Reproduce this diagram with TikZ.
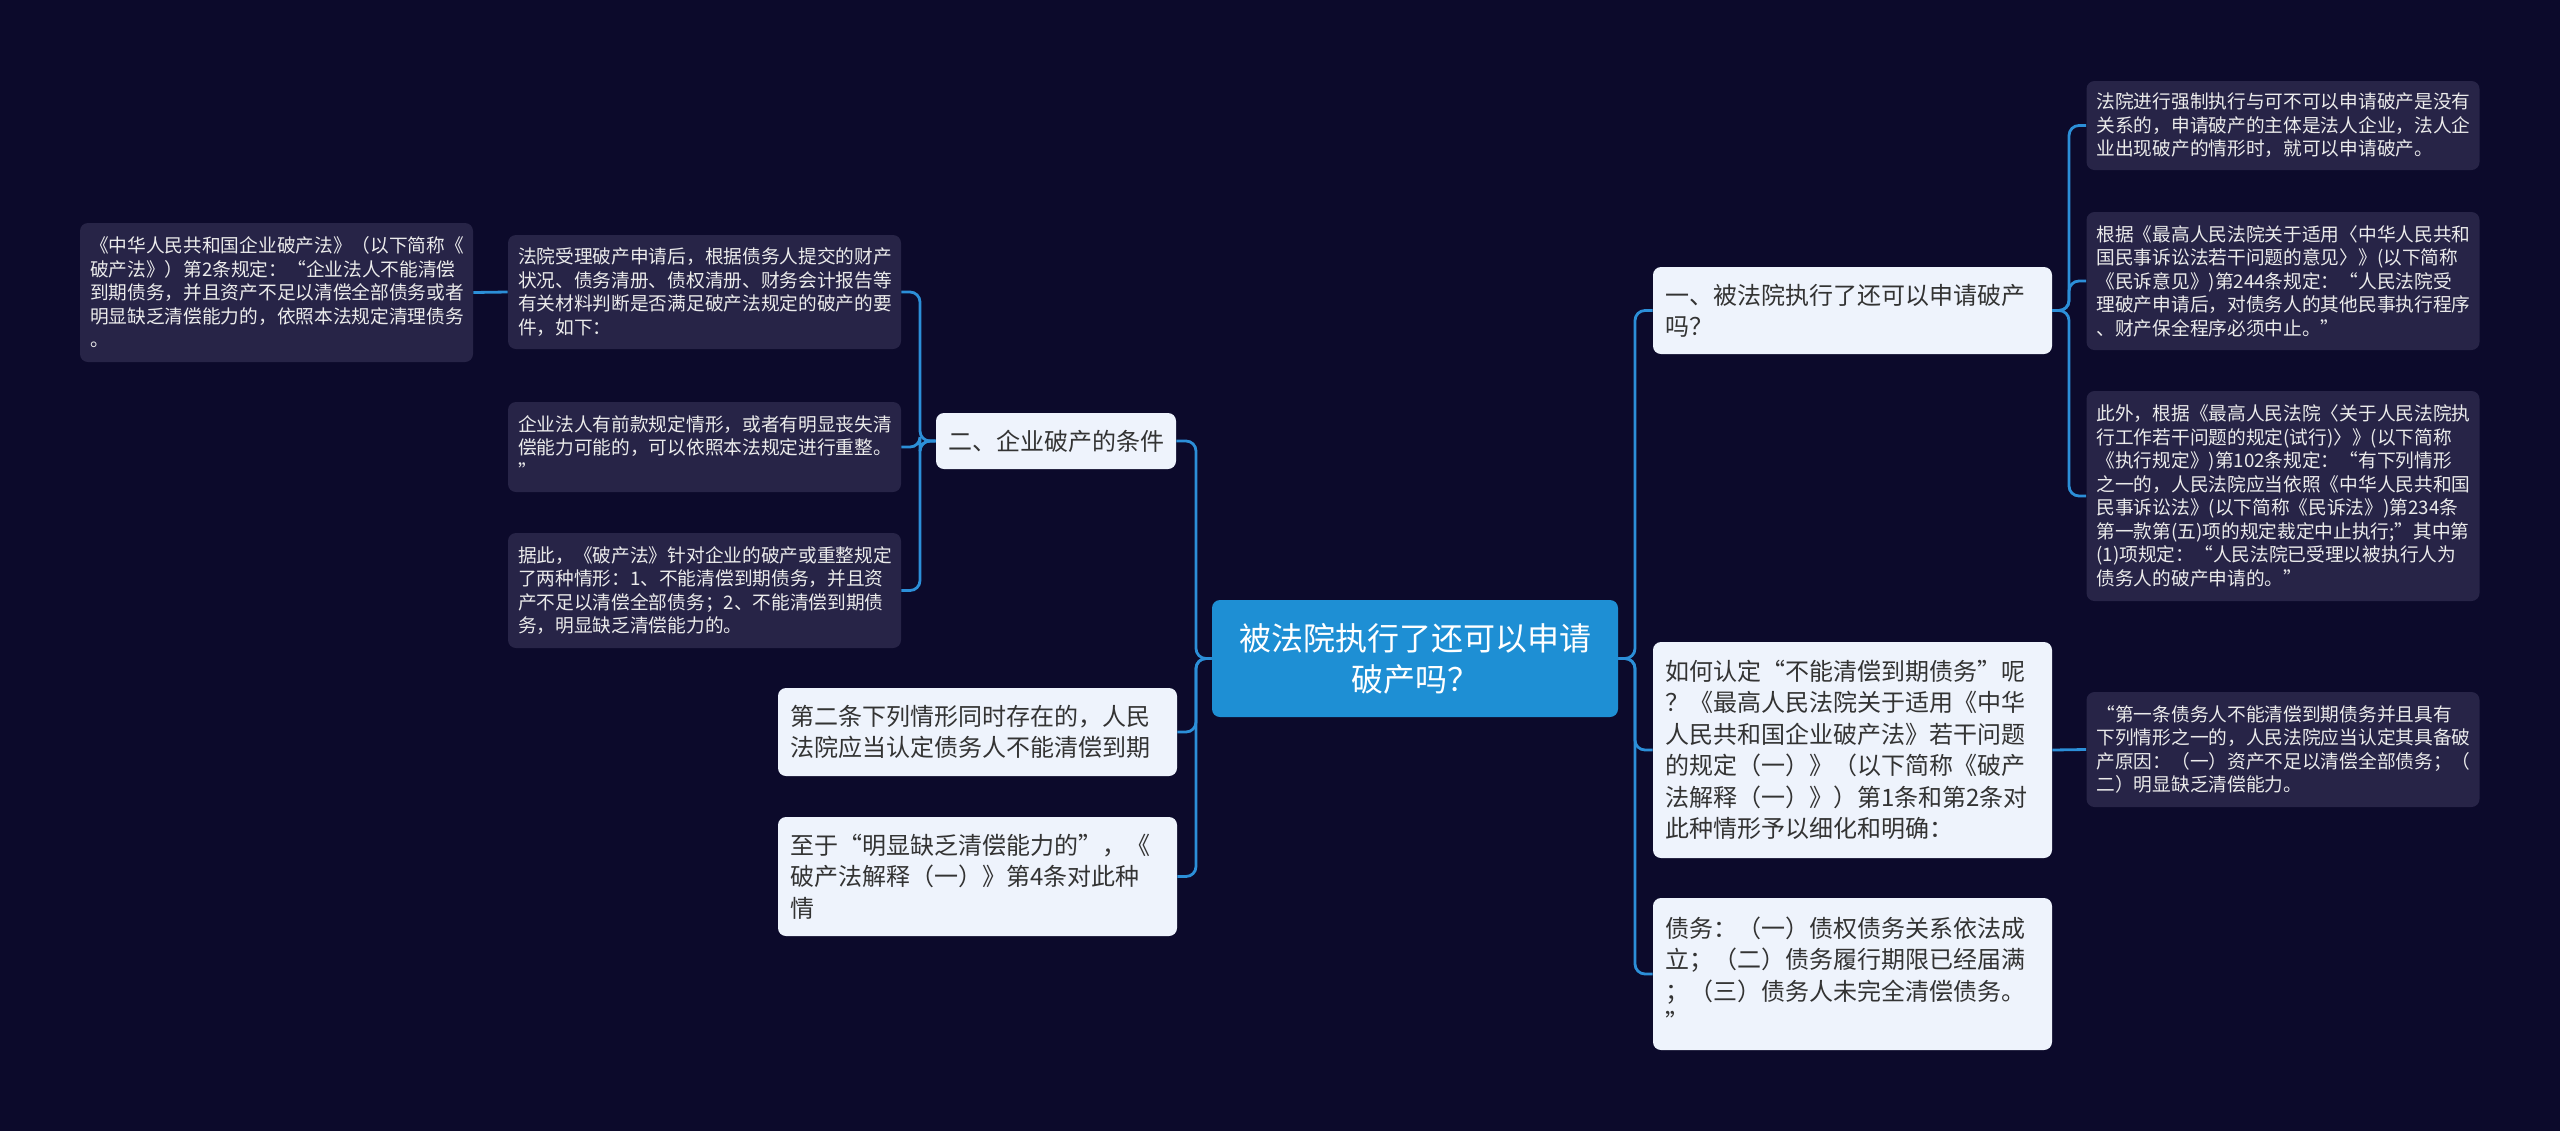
\documentclass[tikz,border=0pt]{standalone}
\usepackage{fontspec}
\setmainfont{Noto Sans CJK SC}
\definecolor{bgc}{HTML}{0C0A2B}
\definecolor{darkbox}{HTML}{272447}
\definecolor{lightbox}{HTML}{EEF3FC}
\definecolor{rootblue}{HTML}{1E8FD4}
\definecolor{linkc}{HTML}{2C8FD8}

\begin{document}
\begin{tikzpicture}[
        x=0.5pt, y=-0.5pt,
        every node/.style={rounded corners=4pt, inner ysep=2pt},
        rootnode/.style={fill=rootblue, text=white, align=center, minimum width=203pt, font=\fontsize{16}{20.5}\selectfont},
        light/.style={fill=lightbox, text=black!80, text width=187.5pt, inner xsep=6pt, align=left, font=\fontsize{12}{15.75}\selectfont},
        dark/.style={fill=darkbox, text=white!92!black, text width=186.5pt, inner xsep=5pt, align=left, font=\fontsize{9.35}{11.75}\selectfont},
        link/.style={draw=linkc, line width=1.4pt, rounded corners=5pt}
    ]
        \fill[bgc] (0,0) rectangle (2560,1131);

        \node[rootnode, minimum height=58.5pt] (root) at (1415,658.5) {被法院执行了还可以申请\\破产吗？};

        \node[light, text width=108pt, minimum height=28pt] (cond) at (1056,441) {二、企业破产的条件};
        \node[dark, minimum height=57pt] (cond1) at (704.5,292) {法院受理破产申请后，根据债务人提交的财产\\状况、债务清册、债权清册、财务会计报告等\\有关材料判断是否满足破产法规定的破产的要\\件，如下：};
        \node[dark, minimum height=69.5pt] (law2) at (276.5,292.5) {《中华人民共和国企业破产法》（以下简称《\\破产法》）第2条规定：“企业法人不能清偿\\到期债务，并且资产不足以清偿全部债务或者\\明显缺乏清偿能力的，依照本法规定清理债务\\。};
        \node[dark, minimum height=45pt] (cond2) at (704.5,447) {企业法人有前款规定情形，或者有明显丧失清\\偿能力可能的，可以依照本法规定进行重整。\\”};
        \node[dark, minimum height=57.5pt] (cond3) at (704.5,590.5) {据此，《破产法》针对企业的破产或重整规定\\了两种情形：1、不能清偿到期债务，并且资\\产不足以清偿全部债务；2、不能清偿到期债\\务，明显缺乏清偿能力的。};
        \node[light, minimum height=44pt] (art2) at (977.5,732) {第二条下列情形同时存在的，人民\\法院应当认定债务人不能清偿到期};
        \node[light, minimum height=59.5pt] (art4) at (977.5,876.5) {至于“明显缺乏清偿能力的”，《\\破产法解释（一）》第4条对此种\\情};

        \node[light, minimum height=43.5pt] (q1) at (1852.5,310.5) {一、被法院执行了还可以申请破产\\吗？};
        \node[dark, minimum height=44.5pt] (q1a) at (2283,125.5) {法院进行强制执行与可不可以申请破产是没有\\关系的，申请破产的主体是法人企业，法人企\\业出现破产的情形时，就可以申请破产。};
        \node[dark, minimum height=69pt] (q1b) at (2283,281) {根据《最高人民法院关于适用〈中华人民共和\\国民事诉讼法若干问题的意见〉》(以下简称\\《民诉意见》)第244条规定：“人民法院受\\理破产申请后，对债务人的其他民事执行程序\\、财产保全程序必须中止。”};
        \node[dark, minimum height=105pt] (q1c) at (2283,496) {此外，根据《最高人民法院〈关于人民法院执\\行工作若干问题的规定(试行)〉》(以下简称\\《执行规定》)第102条规定：“有下列情形\\之一的，人民法院应当依照《中华人民共和国\\民事诉讼法》(以下简称《民诉法》)第234条\\第一款第(五)项的规定裁定中止执行;”其中第\\(1)项规定：“人民法院已受理以被执行人为\\债务人的破产申请的。”};
        \node[light, minimum height=108pt] (q2) at (1852.5,750) {如何认定“不能清偿到期债务”呢\\？《最高人民法院关于适用《中华\\人民共和国企业破产法》若干问题\\的规定（一）》（以下简称《破产\\法解释（一）》）第1条和第2条对\\此种情形予以细化和明确：};
        \node[dark, minimum height=57.5pt] (q2a) at (2283,749.5) {“第一条债务人不能清偿到期债务并且具有\\下列情形之一的，人民法院应当认定其具备破\\产原因：（一）资产不足以清偿全部债务；（\\二）明显缺乏清偿能力。};
        \node[light, minimum height=76pt] (q3) at (1852.5,974) {债务：（一）债权债务关系依法成\\立；（二）债务履行期限已经届满\\；（三）债务人未完全清偿债务。\\”};

        \coordinate (lspine) at (1196,658.5);
        \coordinate (cspine) at (920,441);
        \coordinate (rspine) at (1635,658.5);
        \coordinate (qspine) at (2069,310.5);

        \draw[link] (root.west) -- (lspine) |- (cond.east);
        \draw[link] (root.west) -- (lspine) |- (art2.east);
        \draw[link] (root.west) -- (lspine) |- (art4.east);
        \draw[link] (cond.west) -- (cspine) |- (cond1.east);
        \draw[link] (cond.west) -- (cspine) |- (cond2.east);
        \draw[link] (cond.west) -- (cspine) |- (cond3.east);
        \draw[link] (cond1.west) -- (law2.east);

        \draw[link] (root.east) -- (rspine) |- (q1.west);
        \draw[link] (root.east) -- (rspine) |- (q2.west);
        \draw[link] (root.east) -- (rspine) |- (q3.west);
        \draw[link] (q1.east) -- (qspine) |- (q1a.west);
        \draw[link] (q1.east) -- (qspine) |- (q1b.west);
        \draw[link] (q1.east) -- (qspine) |- (q1c.west);
        \draw[link] (q2.east) -- (q2a.west);
\end{tikzpicture}
\end{document}
